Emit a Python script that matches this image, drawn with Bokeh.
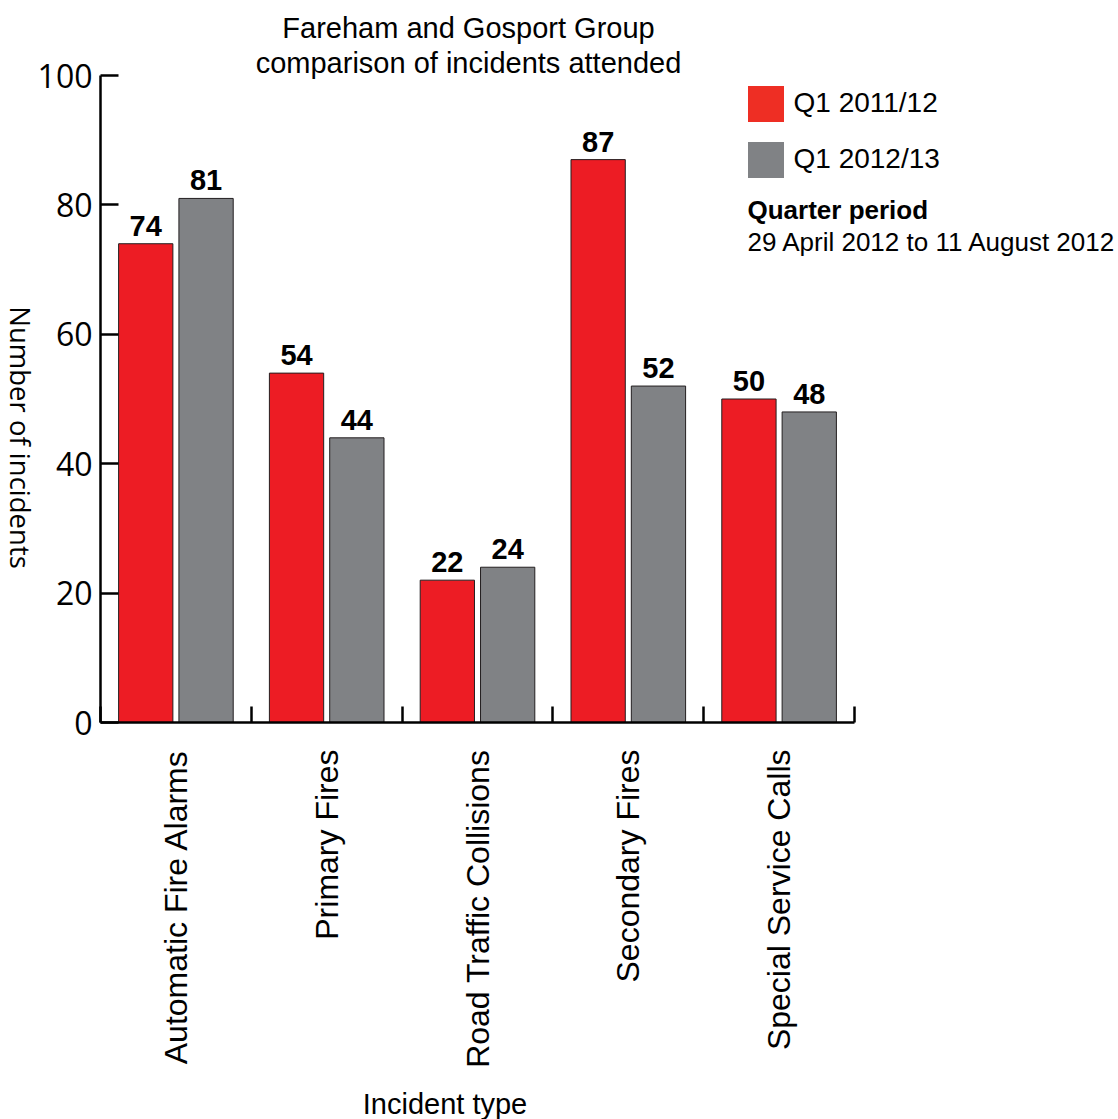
import math
from bokeh.plotting import figure
from bokeh.models import (ColumnDataSource, FixedTicker, Label, Legend, LegendItem,
                          Range1d)
from bokeh.transform import dodge
from bokeh.core.properties import value
from bokeh.embed import file_html
from bokeh.resources import INLINE

# ---- data ----
categories = ["Automatic Fire Alarms", "Primary Fires", "Road Traffic Collisions",
              "Secondary Fires", "Special Service Calls"]
q1_2011_12 = [74, 54, 22, 87, 50]
q1_2012_13 = [81, 44, 24, 52, 48]
series_names = ["Q1 2011/12", "Q1 2012/13"]
y_ticks = [0, 20, 40, 60, 80, 100]

RED = "#ED1C24"
RED_LEG = "#EE2E24"
GREY = "#808285"
HELV = "Liberation Sans"
MYR = "Open Sans"

W, H = 1118, 1119
# pixel geometry of the axes box (axis origin at px (100, 722))
X0, Y0 = 100, 722
PX_PER_CAT = 754 / 5
PX_PER_UNIT = 647 / 100


def px_x(px):
    return (px - X0) / PX_PER_CAT


def px_y(py):
    return (Y0 - py) / PX_PER_UNIT


n = len(categories)
xc = [i + 0.5 for i in range(n)]
src = ColumnDataSource(dict(
    xc=xc,
    a=q1_2011_12,
    b=q1_2012_13,
    la=[str(v) for v in q1_2011_12],
    lb=[str(v) for v in q1_2012_13],
))

p = figure(
    output_backend="svg", toolbar_location=None,
    frame_width=W, frame_height=H, min_border=0,
    x_range=Range1d(px_x(0), px_x(W)), y_range=Range1d(px_y(H), px_y(0)),
)
p.outline_line_color = None
p.xgrid.visible = False
p.ygrid.visible = False
p.background_fill_color = "white"
p.border_fill_color = "white"

# bars
xa_field = dodge("xc", -0.2, range=p.x_range)
xb_field = dodge("xc", 0.2, range=p.x_range)
p.vbar(x=xa_field, top="a", width=0.36, bottom=0,
       source=src, fill_color=RED, line_color="#231F20", line_width=1)
p.vbar(x=xb_field, top="b", width=0.36, bottom=0,
       source=src, fill_color=GREY, line_color="#231F20", line_width=1)

# legend-only renderers (swatches without outline)
leg_a = p.vbar(x=xa_field, top="a", width=0.36, bottom=0, source=src,
               fill_color=RED_LEG, line_color=None, visible=False)
leg_b = p.vbar(x=xb_field, top="b", width=0.36, bottom=0, source=src,
               fill_color=GREY, line_color=None, visible=False)

# value labels
lbl_kw = dict(text_align="center", text_baseline="alphabetic", y_offset=-18,
              text_font=value(HELV), text_font_style="bold", text_font_size="29px",
              text_color="black", source=src)
p.text(x=xa_field, y="a", text="la", **lbl_kw)
p.text(x=xb_field, y="b", text="lb", **lbl_kw)

# x axis: labels at centres, ticks at boundaries
xa = p.xaxis[0]
xa.fixed_location = 0
xa.bounds = (0, n)
xa.ticker = FixedTicker(ticks=xc, minor_ticks=list(range(n + 1)))
xa.major_label_overrides = {x: c for x, c in zip(xc, categories)}
xa.major_label_orientation = math.pi / 2
xa.major_label_text_font = HELV
xa.major_label_text_font_size = "32px"
xa.major_label_text_color = "black"
xa.major_label_standoff = 27
xa.major_tick_in = 0
xa.major_tick_out = 0
xa.minor_tick_in = 16
xa.minor_tick_out = 0
xa.minor_tick_line_color = "black"
xa.minor_tick_line_width = 2.5
xa.axis_line_color = "black"
xa.axis_line_width = 2.5

# y axis
ya = p.yaxis[0]
ya.fixed_location = 0
ya.bounds = (0, 100)
ya.ticker = FixedTicker(ticks=y_ticks)
ya.major_tick_in = 18
ya.major_tick_out = 0
ya.major_tick_line_color = "black"
ya.major_tick_line_width = 2.5
ya.minor_tick_in = 0
ya.minor_tick_out = 0
ya.axis_line_color = "black"
ya.axis_line_width = 2.5
ya.major_label_text_font = MYR
ya.major_label_text_font_size = "32px"
ya.major_label_text_color = "black"
ya.major_label_standoff = 8

# legend
legend = Legend(
    items=[LegendItem(label=series_names[0], renderers=[leg_a]),
           LegendItem(label=series_names[1], renderers=[leg_b])],
    location=(742.5, H - 181.5), orientation="vertical",
    glyph_width=45, glyph_height=45, spacing=11, label_standoff=6,
    padding=0, margin=0, border_line_color=None, background_fill_alpha=0,
    label_text_font=HELV, label_text_font_size="28px",
    label_text_color="black", click_policy="none",
)
p.add_layout(legend, "center")

texts = [
    ("Fareham and Gosport Group", 468, 27, "center", "normal", "29px", HELV, 0),
    ("comparison of incidents attended", 468, 62, "center", "normal", "29px", HELV, 0),
    ("Quarter period", 747, 209, "left", "bold", "26px", HELV, 0),
    ("29 April 2012 to 11 August 2012", 747, 241, "left", "normal", "26px", HELV, 0),
    ("Incident type", 444.5, 1103, "center", "normal", "29px", HELV, 0),
    ("Number of incidents", 20, 437, "center", "normal", "27.5px", MYR, -math.pi / 2),
]
for t, x, y, al, st, fs, fnt, ang in texts:
    p.add_layout(Label(x=px_x(x), y=px_y(y), text=t, text_align=al,
                       text_baseline="middle", text_font_style=st,
                       text_font_size=fs, text_font=fnt,
                       text_color="black", angle=ang))

open("out.html", "w").write(file_html(p, INLINE))
